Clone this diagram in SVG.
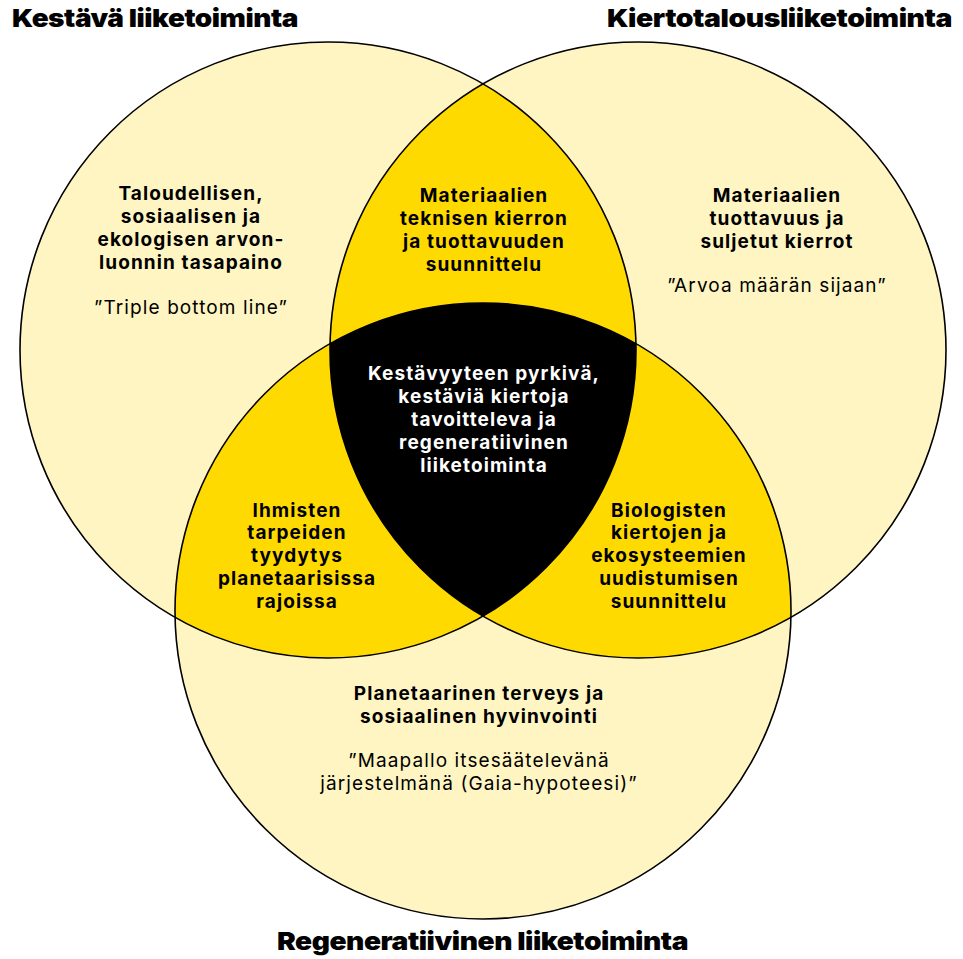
<svg xmlns="http://www.w3.org/2000/svg" width="963" height="959" viewBox="0 0 963 959">
<style>
.light{fill:#FFF5C2}
.mid{fill:#FFDA00}
.core{fill:#000000}
.ring{fill:none;stroke:#000000;stroke-width:1.6}
.title{font-family:Inter,"Noto Sans","Liberation Sans",sans-serif;font-weight:900;font-size:25px;fill:#000000;letter-spacing:-0.4px}
.b{font-family:Inter,"Noto Sans","Liberation Sans",sans-serif;font-weight:700;font-size:19px;fill:#000000;text-anchor:middle;letter-spacing:1.1px}
.r{font-family:Inter,"Noto Sans","Liberation Sans",sans-serif;font-weight:400;font-size:19px;fill:#000000;text-anchor:middle;letter-spacing:1.1px}
.w{fill:#FFFFFF}
</style>
<defs>
<clipPath id="clipL"><circle cx="328" cy="350" r="308"/></clipPath>
<clipPath id="clipR"><circle cx="638" cy="350" r="308"/></clipPath>
<clipPath id="clipB"><circle cx="483" cy="611" r="308"/></clipPath>
</defs>
<rect width="963" height="959" fill="#FFFFFF"/>
<g id="fills">
<circle class="light" cx="328" cy="350" r="308"/>
<circle class="light" cx="638" cy="350" r="308"/>
<circle class="light" cx="483" cy="611" r="308"/>
<circle class="mid" cx="638" cy="350" r="308" clip-path="url(#clipL)"/>
<circle class="mid" cx="483" cy="611" r="308" clip-path="url(#clipL)"/>
<circle class="mid" cx="483" cy="611" r="308" clip-path="url(#clipR)"/>
<g clip-path="url(#clipL)"><circle class="core" cx="483" cy="611" r="308" clip-path="url(#clipR)"/></g>
</g>
<g id="node-kestava">
<circle class="ring" cx="328" cy="350" r="308"/>
<text class="title" x="12" y="27" textLength="286" lengthAdjust="spacingAndGlyphs">Kestävä liiketoiminta</text>
<text class="b" x="191" y="200">Taloudellisen,</text>
<text class="b" x="191" y="223">sosiaalisen ja</text>
<text class="b" x="191" y="246">ekologisen arvon-</text>
<text class="b" x="191" y="269">luonnin tasapaino</text>
<text class="r" x="191" y="314">”Triple bottom line”</text>
</g>
<g id="node-kiertotalous">
<circle class="ring" cx="638" cy="350" r="308"/>
<text class="title" x="607" y="27" textLength="345" lengthAdjust="spacingAndGlyphs">Kiertotalousliiketoiminta</text>
<text class="b" x="777" y="202">Materiaalien</text>
<text class="b" x="777" y="225">tuottavuus ja</text>
<text class="b" x="777" y="248">suljetut kierrot</text>
<text class="r" x="777" y="292">”Arvoa määrän sijaan”</text>
</g>
<g id="node-regeneratiivinen">
<circle class="ring" cx="483" cy="611" r="308"/>
<text class="title" x="277" y="950" textLength="411" lengthAdjust="spacingAndGlyphs">Regeneratiivinen liiketoiminta</text>
<text class="b" x="479" y="700">Planetaarinen terveys ja</text>
<text class="b" x="479" y="723">sosiaalinen hyvinvointi</text>
<text class="r" x="479" y="767">”Maapallo itsesäätelevänä</text>
<text class="r" x="479" y="790">järjestelmänä (Gaia-hypoteesi)”</text>
</g>
<g id="node-tekninen">
<text class="b" x="484" y="202">Materiaalien</text>
<text class="b" x="484" y="225">teknisen kierron</text>
<text class="b" x="484" y="248">ja tuottavuuden</text>
<text class="b" x="484" y="271">suunnittelu</text>
</g>
<g id="node-ihmisten">
<text class="b" x="297" y="517">Ihmisten</text>
<text class="b" x="297" y="539">tarpeiden</text>
<text class="b" x="297" y="562">tyydytys</text>
<text class="b" x="297" y="585">planetaarisissa</text>
<text class="b" x="297" y="608">rajoissa</text>
</g>
<g id="node-biologisten">
<text class="b" x="669" y="517">Biologisten</text>
<text class="b" x="669" y="539">kiertojen ja</text>
<text class="b" x="669" y="562">ekosysteemien</text>
<text class="b" x="669" y="585">uudistumisen</text>
<text class="b" x="669" y="608">suunnittelu</text>
</g>
<g id="node-keskus">
<text class="b w" x="484" y="380">Kestävyyteen pyrkivä,</text>
<text class="b w" x="484" y="403">kestäviä kiertoja</text>
<text class="b w" x="484" y="426">tavoitteleva ja</text>
<text class="b w" x="484" y="449">regeneratiivinen</text>
<text class="b w" x="484" y="472">liiketoiminta</text>
</g>
<g id="connectors"></g>
</svg>
